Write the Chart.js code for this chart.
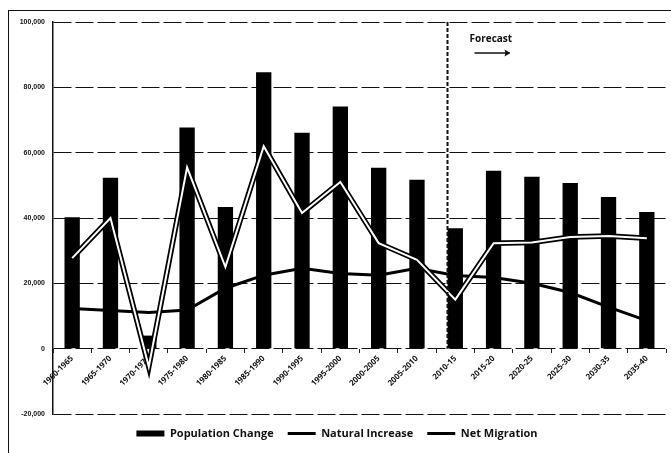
<!DOCTYPE html>
<html>
<head>
<meta charset="utf-8">
<script src="https://cdn.jsdelivr.net/npm/chart.js@4/dist/chart.umd.min.js"></script>
<style>
  html, body { margin: 0; padding: 0; background: #fff; }
  #wrap { position: relative; width: 671px; height: 453px; overflow: hidden; }
  #frame { position: absolute; left: 8px; top: 10px; width: 700px; height: 500px;
           border-left: 1.5px solid #111; border-top: 1.5px solid #111; }
  canvas { position: absolute; left: 0; top: 0; }
</style>
</head>
<body>
<div id="wrap">
  <div id="frame"></div>
  <canvas id="popChart" width="671" height="453"></canvas>
</div>
<script>
const periods = ['1960-1965', '1965-1970', '1970-1975', '1975-1980', '1980-1985', '1985-1990',
  '1990-1995', '1995-2000', '2000-2005', '2005-2010', '2010-15', '2015-20', '2020-25',
  '2025-30', '2030-35', '2035-40'];

const populationChange = [40200, 52300, 4000, 67700, 43400, 84600, 66100, 74100,
  55400, 51700, 36900, 54500, 52600, 50700, 46400, 41800];

const naturalIncrease = [12300, 11700, 11100, 11800, 18500, 22500, 24600, 23000,
  22500, 24600, 22400, 21800, 20000, 17200, 12700, 8600];

const netMigration = [27700, 40000, -5500, 55500, 25000, 62000, 41500, 51000,
  32300, 27200, 15000, 32300, 32500, 34200, 34500, 33800];

const yTicks = [100000, 80000, 60000, 40000, 20000, 0, -20000];
const forecastStart = 10; // index of first forecast period

// white core drawn over the thick black Net Migration line
const outlinePlugin = {
  id: 'outline',
  afterDatasetDraw(chart, args) {
    if (chart.data.datasets[args.index].label !== 'Net Migration') return;
    const pts = args.meta.data;
    const ctx = chart.ctx;
    ctx.save();
    ctx.strokeStyle = '#fff';
    ctx.lineWidth = 2;
    ctx.beginPath();
    pts.forEach((p, i) => i ? ctx.lineTo(p.x, p.y) : ctx.moveTo(p.x, p.y));
    ctx.stroke();
    ctx.restore();
  }
};

// dashed divider + "Forecast" note
const forecastPlugin = {
  id: 'forecast',
  afterDatasetsDraw(chart) {
    const { ctx, chartArea, scales: { x, y } } = chart;
    const step = x.getPixelForValue(1) - x.getPixelForValue(0);
    const lx = Math.round(x.getPixelForValue(forecastStart) - step * 0.22) + 0.5;
    ctx.save();
    ctx.strokeStyle = '#111';
    ctx.lineWidth = 2;
    ctx.setLineDash([4, 2]);
    ctx.beginPath();
    ctx.moveTo(lx, chartArea.top);
    ctx.lineTo(lx, y.getPixelForValue(0));
    ctx.stroke();
    ctx.setLineDash([]);

    ctx.fillStyle = '#111';
    ctx.font = 'bold 10px "Open Sans"';
    ctx.textBaseline = 'middle';
    ctx.fillText('Forecast', lx + 22, chartArea.top + 17);

    const ay = chartArea.top + 31;
    ctx.lineWidth = 1.5;
    ctx.beginPath();
    ctx.moveTo(lx + 27, ay);
    ctx.lineTo(lx + 62, ay);
    ctx.stroke();
    ctx.beginPath();
    ctx.moveTo(lx + 63, ay);
    ctx.lineTo(lx + 57, ay - 3.5);
    ctx.lineTo(lx + 58, ay);
    ctx.lineTo(lx + 57, ay + 3.5);
    ctx.closePath();
    ctx.fill();
    ctx.restore();
  }
};

const ctx = document.getElementById('popChart').getContext('2d');

new Chart(ctx, {
  type: 'bar',
  data: {
    labels: periods,
    datasets: [
      {
        type: 'bar',
        label: 'Population Change',
        data: populationChange,
        backgroundColor: '#000',
        borderWidth: 0,
        barPercentage: 0.4,
        categoryPercentage: 1.0,
        pointStyle: 'rect',
        order: 3
      },
      {
        type: 'line',
        label: 'Natural Increase',
        data: naturalIncrease,
        borderColor: '#000',
        backgroundColor: '#000',
        borderWidth: 3,
        pointRadius: 0,
        tension: 0,
        pointStyle: 'line',
        order: 2
      },
      {
        type: 'line',
        label: 'Net Migration',
        data: netMigration,
        borderColor: '#000',
        backgroundColor: '#000',
        borderWidth: 5.5,
        pointRadius: 0,
        tension: 0,
        pointStyle: 'line',
        order: 1
      }
    ]
  },
  options: {
    responsive: false,
    animation: false,
    layout: { padding: { left: 8, right: 5, top: 22, bottom: 4 } },
    plugins: {
      tooltip: { enabled: false },
      legend: {
        position: 'bottom',
        labels: {
          usePointStyle: true,
          pointStyleWidth: 28,
          boxHeight: 6,
          padding: 14,
          color: '#111',
          font: { family: 'Open Sans', size: 11, weight: 'bold' },
          sort: (a, b) => a.datasetIndex - b.datasetIndex,
          generateLabels(chart) {
            const items = Chart.defaults.plugins.legend.labels.generateLabels(chart);
            items.forEach(it => { if (it.pointStyle === 'line') it.lineWidth = 3; });
            return items;
          }
        }
      }
    },
    scales: {
      x: {
        position: { y: 0 },
        offset: true,
        grid: { display: true, drawOnChartArea: false, drawTicks: true, tickLength: 4, color: '#222', offset: true },
        border: { display: false },
        ticks: {
          color: '#111',
          minRotation: 45,
          maxRotation: 45,
          padding: 1,
          autoSkip: false,
          font: { family: 'Open Sans', size: 8, weight: 'bold' }
        }
      },
      y: {
        min: -20000,
        max: 100000,
        afterFit(s) { s.width = 45; },
        afterBuildTicks(s) { s.ticks = yTicks.map(v => ({ value: v })); },
        grid: { color: '#111', lineWidth: 1, drawTicks: false },
        border: { display: true, color: '#111', width: 1.5, dash: [18, 4] },
        ticks: {
          color: '#111',
          padding: 8,
          font: { family: 'Liberation Sans', size: 7, weight: 'bold' },
          callback: v => v.toLocaleString('en-US')
        }
      }
    }
  },
  plugins: [outlinePlugin, forecastPlugin]
});
</script>
</body>
</html>
